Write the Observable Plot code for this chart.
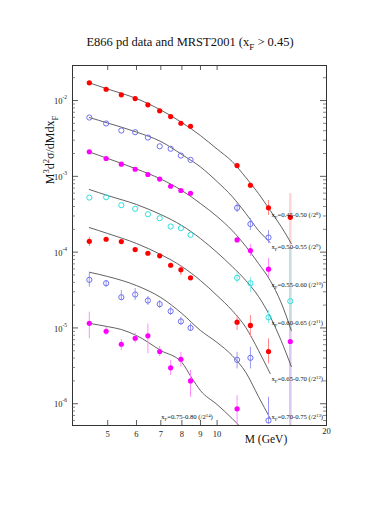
<!DOCTYPE html>
<html><head><meta charset="utf-8">
<script src="https://cdn.jsdelivr.net/npm/d3@7"></script>
<script src="https://cdn.jsdelivr.net/npm/@observablehq/plot@0.6"></script>
<style>body{margin:0;background:#fff} svg{display:block}</style>
</head><body><div id="chart"></div>
<script>
// ---------- data (already divided by 2^k) ----------
const massLow  = [4.45, 4.95, 5.45, 5.95, 6.45, 6.95, 7.45, 7.95, 8.45];
const massHigh = [11.35, 12.35, 13.85, 15.9];
const xfBins = ["0.45-0.50","0.50-0.55","0.55-0.60","0.60-0.65","0.65-0.70","0.70-0.75","0.75-0.80"];
const powers = [8, 9, 10, 11, 12, 13, 14];

const s1   = [0.01712,0.01409,0.01189,0.01062,0.00878,0.00731,0.00615,0.00502,0.00458,0.001387,0.000763,0.000384,0.000288];
const s1lo = [null,null,null,null,null,null,null,null,null,null,null,0.000304,0.000122];
const s1hi = [null,null,null,null,null,null,null,null,null,null,null,0.000480,0.000593];

const s2   = [0.00597,0.00498,0.00402,0.00382,0.00325,0.00249,0.00231,0.00188,0.00165,0.000384,0.000235,0.000156,null];
const s2lo = [null,null,null,null,null,null,null,null,null,0.000333,0.000193,0.000130,null];
const s2hi = [null,null,null,null,null,null,null,null,null,0.000438,0.000277,0.000193,null];

const s3   = [0.00211,0.00172,0.001445,0.00124,0.001057,0.000921,0.00074,0.00065,0.000598,0.000145,0.000105,0.0000595,0.00000662];
const s3lo = [null,null,null,null,null,null,null,null,null,null,0.0000875,0.0000462,3e-7];
const s3hi = [null,null,null,null,null,null,null,null,null,null,0.000126,0.0000824,0.000023];

const s4   = [5.25e-4,5.30e-4,4.16e-4,3.73e-4,3.16e-4,2.80e-4,2.18e-4,2.07e-4,1.69e-4,4.58e-5,3.89e-5,1.38e-5,2.25e-5];
const s4lo = [null,null,null,null,null,null,null,null,null,3.85e-5,2.93e-5,1.14e-5,9.25e-6];
const s4hi = [null,null,null,null,null,null,null,null,null,5.38e-5,4.62e-5,1.70e-5,1.15e-4];

const s5   = [1.39e-4,1.48e-4,1.38e-4,1.08e-4,9.66e-5,8.93e-5,6.71e-5,5.84e-5,4.58e-5,1.19e-5,1.08e-5,4.89e-6,null];
const s5lo = [1.19e-4,null,null,null,null,null,null,4.91e-5,null,9.25e-6,7.54e-6,3.36e-6,null];
const s5hi = [1.57e-4,null,null,null,null,null,null,6.65e-5,null,1.46e-5,1.46e-5,7.18e-6,null];

const s6   = [4.31e-5,3.89e-5,2.54e-5,2.76e-5,2.30e-5,2.06e-5,1.66e-5,1.22e-5,1.00e-5,3.79e-6,4.03e-6,6.0e-7,null];
const s6lo = [3.44e-5,3.44e-5,2.30e-5,2.30e-5,1.98e-5,1.80e-5,1.46e-5,1.08e-5,8.98e-6,2.88e-6,2.88e-6,5.43e-7,null];
const s6hi = [5.23e-5,4.22e-5,3.11e-5,3.31e-5,2.60e-5,2.30e-5,1.88e-5,1.38e-5,1.14e-5,4.77e-6,5.56e-6,1.22e-6,null];

const s7   = [1.15e-5,9.04e-6,6.09e-6,7.31e-6,7.86e-6,4.89e-6,2.98e-6,3.86e-6,2.00e-6,8.57e-7,null,null,null];
const s7lo = [7.18e-6,7.94e-6,5.04e-6,6.28e-6,4.55e-6,4.20e-6,2.36e-6,3.03e-6,1.22e-6,4.90e-7,null,null,null];
const s7hi = [1.61e-5,1.01e-5,7.03e-6,8.51e-6,1.13e-5,5.69e-6,3.72e-6,4.77e-6,2.74e-6,1.28e-6,null,null,null];

// MRST2001 curves
const curveMass  = [4.45, 5, 6, 7, 8, 9, 10, 11, 12, 13, 14, 15, 16];
const curveMass7 = [4.45, 5, 5.45, 6, 7, 8, 8.5, 9, 10, 11, 12];
const c1 = [0.01712,0.01419,0.01062,0.00750,0.00513,0.00345,0.00229,0.00157,9.64e-4,5.93e-4,3.54e-4,2.18e-4,1.30e-4];
const c2 = [5.97e-3,5.05e-3,3.84e-3,2.88e-3,1.94e-3,1.33e-3,8.53e-4,5.42e-4,3.23e-4,1.93e-4,1.34e-4];
const c3 = [2.10e-3,1.72e-3,1.25e-3,9.21e-4,6.50e-4,4.38e-4,2.95e-4,1.93e-4,1.19e-4,7.08e-5,4.22e-5,2.16e-5,9.25e-6];
const c4 = [6.70e-4,5.58e-4,4.25e-4,3.13e-4,2.24e-4,1.51e-4,9.88e-5,6.46e-5,4.22e-5,2.60e-5,1.41e-5,6.82e-6,3.10e-6];
const c5 = [2.11e-4,1.76e-4,1.30e-4,9.29e-5,6.46e-5,4.22e-5,2.67e-5,1.70e-5,1.01e-5,5.04e-6,2.50e-6];
const c6 = [5.43e-5,4.77e-5,3.62e-5,2.52e-5,1.55e-5,9.25e-6,6.42e-6,4.32e-6,2.58e-6,1.24e-6,6.38e-7];
const c7 = [1.15e-5,1.04e-5,9.53e-6,7.94e-6,5.04e-6,3.50e-6,2.22e-6,1.49e-6,9.75e-7,6.38e-7,4.17e-7];

const xTickValues = [5, 6, 7, 8, 9, 10, 20];
const yDecades = [1e-6, 1e-5, 1e-4, 1e-3, 1e-2];

// ---------- assembly ----------
const mass = massLow.concat(massHigh);
const vals = [s1,s2,s3,s4,s5,s6,s7];
const los  = [s1lo,s2lo,s3lo,s4lo,s5lo,s6lo,s7lo];
const his  = [s1hi,s2hi,s3hi,s4hi,s5hi,s6hi,s7hi];
const curves = [c1,c2,c3,c4,c5,c6,c7];

const colors    = ["#ff0000","#6e6ef2","#ff00ff","#2ee0e0","#ff0000","#6e6ef2","#ff00ff"];
const errColors = ["#ff8a8a","#9a9af5","#ff8cff","#88ecec","#ff8a8a","#9a9af5","#ff8cff"];
const bandColors= ["#ffd6d6","#d4d4fa","#ddc9ee","#c6dde2","#ffd6d6","#d4d4fa","#ddc9ee"];
const filled = [true,false,true,false,true,false,true];

const pts = [];
vals.forEach((arr, s) => arr.forEach((v, j) => {
  if (v != null) pts.push({s, M: mass[j], v, lo: los[s][j], hi: his[s][j], last: j === 12});
}));
const lines = [];
curves.forEach((arr, s) => arr.forEach((v, j) => lines.push({s, M: (s === 6 ? curveMass7 : curveMass)[j], v})));

const minorY = [];
for (let e = -7; e <= -2; e++) for (let k = 2; k <= 9; k++) {
  const v = k * Math.pow(10, e);
  if (v > 5.16e-7 && v < 0.029) minorY.push(v);
}

const W = 390, H = 505, mL = 72, mR = 64, mT = 65, mB = 80;
const fw = W - mL - mR, fh = H - mT - mB;
const serif = "Liberation Serif, Times New Roman, serif";

const plot = Plot.plot({
  width: W, height: H,
  marginLeft: mL, marginRight: mR, marginTop: mT, marginBottom: mB,
  style: {fontFamily: serif, background: "#fff"},
  x: {type: "log", domain: [4, 20], axis: null},
  y: {type: "log", domain: [5.16e-7, 0.029], axis: null},
  color: {type: "identity"},
  marks: [
    Plot.ruleX(pts.filter(d => d.last && d.lo != null), {x: "M", y1: "lo", y2: "hi", stroke: d => bandColors[d.s], strokeWidth: 2.6, clip: true}),
    Plot.line(lines, {x: "M", y: "v", z: "s", stroke: "#3a3a3a", strokeWidth: 0.8, curve: "monotone-x", clip: true}),
    Plot.ruleX(pts.filter(d => !d.last && d.lo != null), {x: "M", y1: "lo", y2: "hi", stroke: d => errColors[d.s], strokeWidth: 1, clip: true}),
    Plot.dot(pts.filter(d => filled[d.s]), {x: "M", y: "v", r: 2.6, fill: d => colors[d.s], stroke: "none", clip: true}),
    Plot.dot(pts.filter(d => !filled[d.s]), {x: "M", y: "v", r: 2.6, fill: "none", stroke: d => colors[d.s], strokeWidth: 1, clip: true}),
    Plot.frame({stroke: "#333", strokeWidth: 1}),
    Plot.ruleY(minorY, {y: d => d, insetRight: fw - 3, stroke: "#555", strokeWidth: 0.7}),
    Plot.ruleY(minorY, {y: d => d, insetLeft: fw - 3, stroke: "#555", strokeWidth: 0.7}),
    Plot.ruleY(yDecades, {y: d => d, insetRight: fw - 6, stroke: "#333", strokeWidth: 0.8}),
    Plot.ruleY(yDecades, {y: d => d, insetLeft: fw - 6, stroke: "#333", strokeWidth: 0.8}),
    Plot.ruleX(xTickValues, {x: d => d, insetTop: fh - 5, stroke: "#333", strokeWidth: 0.8}),
    Plot.ruleX(xTickValues, {x: d => d, insetBottom: fh - 5, stroke: "#333", strokeWidth: 0.8}),
    Plot.text(xTickValues.filter(d => d < 20), {x: d => d, frameAnchor: "bottom", dy: 11, text: d => String(d), fontSize: 8.5, fill: "#222"}),
    Plot.text(xTickValues.filter(d => d >= 20), {x: d => d, frameAnchor: "bottom", dy: 8, text: d => String(d), fontSize: 8.5, fill: "#222"}),
    Plot.text(yDecades, {y: d => d, frameAnchor: "left", text: () => "10", textAnchor: "end", dx: -10, dy: 1, fontSize: 8.5, fill: "#222"}),
    Plot.text(yDecades, {y: d => d, frameAnchor: "left", text: d => String(Math.round(Math.log10(d))), textAnchor: "start", dx: -10, dy: -3, fontSize: 5.5, fill: "#222"})
  ]
});
document.getElementById("chart").appendChild(plot);

// ---------- rich text (sub/superscripts) ----------
const svg = d3.select(plot);
const fx = plot.scale("x"), fy = plot.scale("y");
function rich(x, y, parts, size, anchor, transform) {
  const t = svg.append("text").attr("x", x).attr("y", y)
    .attr("font-family", serif).attr("font-size", size).attr("fill", "#111")
    .attr("text-anchor", anchor || "start");
  if (transform) t.attr("transform", transform);
  let shift = 0;
  parts.forEach(p => {
    const [txt, kind] = Array.isArray(p) ? p : [p, null];
    const target = kind === "sub" ? size * 0.3 : kind === "sup" ? -size * 0.4 : 0;
    t.append("tspan").attr("dy", target - shift)
      .attr("font-size", kind ? size * 0.72 : size).text(txt);
    shift = target;
  });
  return t;
}
rich(190, 46, ["E866 pd data and MRST2001 (x", ["F","sub"], " > 0.45)"], 12.5, "middle");
rich(0, 0, ["M", ["3","sup"], "d", ["2","sup"], "σ/dMdx", ["F","sub"]], 12, "middle", "translate(54,150) rotate(-90)");
rich(266, 443, ["M (GeV)"], 11.5, "middle");

const labelAt = [[14.16, 3.04e-4],[14.16, 1.15e-4],[14.16, 3.63e-5],[14.16, 1.14e-5],[14.16, 2.08e-6],[14.16, 6.6e-7],[7.04, 6.6e-7]];
xfBins.forEach((b, i) => {
  const [m, v] = labelAt[i];
  rich(fx.apply(m), fy.apply(v) + 2.3, ["x", ["F","sub"], "=" + b + " (/2", [String(powers[i]), "sup"], ")"], 6.7, "start");
});
</script></body></html>
